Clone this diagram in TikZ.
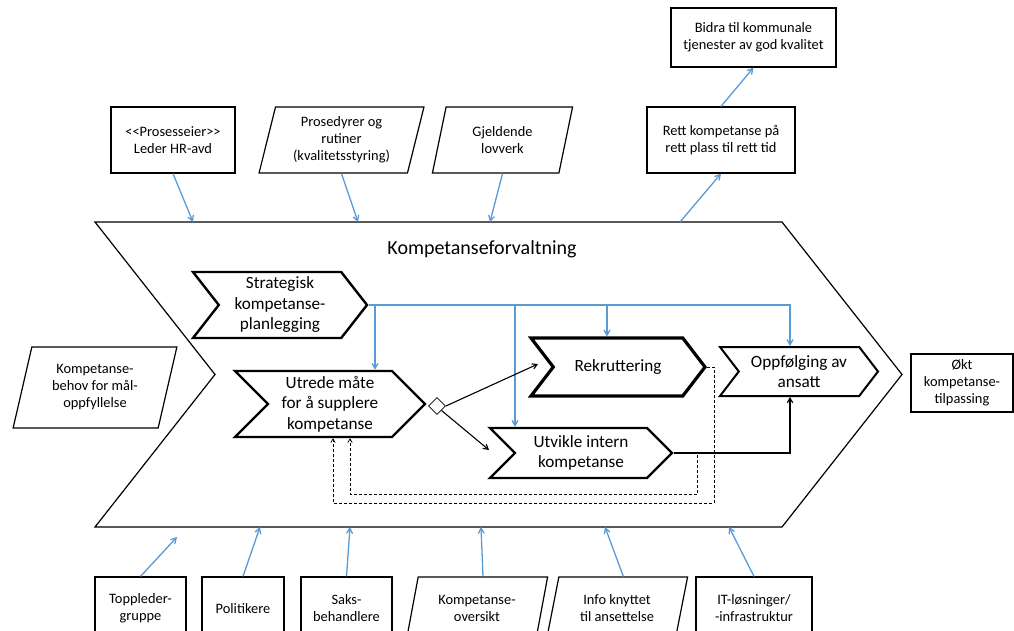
\documentclass[tikz,border=0pt]{standalone}
\usepackage{fontspec}
\setmainfont{Carlito}
\usetikzlibrary{arrows,positioning,shapes,calc}
\definecolor{flowblue}{RGB}{91,155,213}

\begin{document}
\begin{tikzpicture}[x=1pt,y=-1pt,>=angle 60,font=\fontsize{14.4}{17}\selectfont,align=center,
  box/.style={draw,line width=1.2pt,inner sep=2pt},
  para/.style={box,trapezium,trapezium left angle=75,trapezium right angle=105,trapezium stretches=true},
  chev/.style={draw,signal,signal from=west,signal to=east,signal pointer angle=104,line width=2.4pt,inner sep=1pt,font=\fontsize{17.2}{20.5}\selectfont},
  flow/.style={->,draw=flowblue,line width=1.3pt},
  ctrl/.style={->,line width=1.1pt},
  back/.style={->,dash pattern=on 3pt off 2pt,line width=0.7pt}]
   \useasboundingbox (0,0) rectangle (1014,631);
   \clip (0,0) rectangle (1014,631);
   % the process
   \node[chev,line width=1.2pt,signal pointer angle=103.6,minimum width=807,minimum height=305] (big) at (498.5,374.5) {};
   \node[font=\fontsize{20}{24}\selectfont] (title) at (482,249) {Kompetanseforvaltning};
   \node[chev,minimum width=174,minimum height=66] (strat) at (280,305) {Strategisk\\kompetanse-\\planlegging};
   \node[chev,signal pointer angle=90,minimum width=190,minimum height=66] (utr) at (330,404) {Utrede måte\\for å supplere\\kompetanse};
   \node[chev,line width=3.2pt,signal pointer angle=105,minimum width=174,minimum height=58] (rek) at (618,367) {Rekruttering};
   \node[chev,line width=2pt,signal pointer angle=105,minimum width=158,minimum height=49] (opf) at (799,371.5) {Oppfølging av\\ansatt};
   \node[chev,signal pointer angle=90,minimum width=182,minimum height=50] (utv) at (581,453) {Utvikle intern\\kompetanse};
   \node[draw,diamond,line width=0.8pt,minimum size=17,inner sep=0pt] (dia) at (437,406) {};
   % controls
   \node[box,minimum width=124,minimum height=66] (ldr) at (173,140) {<\kern0pt<Prosesseier>\kern0pt>\\Leder HR-avd};
   \node[para,trapezium left angle=76,trapezium right angle=104,minimum width=165,minimum height=66] (prs) at (341.5,140) {Prosedyrer og\\rutiner\\(kvalitetsstyring)};
   \node[para,trapezium left angle=76,trapezium right angle=104,minimum width=141,minimum height=66] (lov) at (502.5,140) {Gjeldende\\lovverk};
   % outputs
   \node[box,minimum width=148,minimum height=66] (rett) at (721,140) {Rett kompetanse på\\rett plass til rett tid};
   \node[box,minimum width=165,minimum height=59] (bidra) at (753.5,37.5) {Bidra til kommunale\\tjenester av god kvalitet};
   \node[para,minimum width=164,minimum height=81] (behov) at (95,387.5) {Kompetanse-\\behov for mål-\\oppfyllelse};
   \node[box,minimum width=102,minimum height=58] (okt) at (962,383) {Økt\\kompetanse-\\tilpassing};
   % resources
   \node[box,minimum width=91,minimum height=63] (topp) at (140.5,608.5) {Toppleder-\\gruppe};
   \node[box,minimum width=82,minimum height=63] (pol) at (243,608.5) {Politikere};
   \node[box,minimum width=91,minimum height=63] (saks) at (346.5,608.5) {Saks-\\behandlere};
   \node[para,minimum width=142,minimum height=63] (kov) at (477,608.5) {Kompetanse-\\oversikt};
   \node[para,minimum width=142,minimum height=63] (info) at (617,608.5) {Info knyttet\\til ansettelse};
   \node[box,minimum width=116,minimum height=63] (it) at (754,608.5) {IT-løsninger/\\-infrastruktur};
   % points on the big chevron
   \coordinate (in1) at (193,222);
   \coordinate (in2) at (358,222);
   \coordinate (in3) at (490,222);
   \coordinate (out1) at (680,222);
   \coordinate (res1) at (177,537);
   \coordinate (res2) at (260,527);
   \coordinate (res3) at (350,527);
   \coordinate (res4) at (481,527);
   \coordinate (res5) at (605,527);
   \coordinate (res6) at (729,527);
   \draw[flow] (ldr.south) -- (in1);
   \draw[flow] (prs.south) -- (in2);
   \draw[flow] (lov.south) -- (in3);
   \draw[flow] (out1) -- (rett.south);
   \draw[flow] (rett.north) -- (bidra.south);
   \draw[flow] (topp.north) -- (res1);
   \draw[flow] (pol.north) -- (res2);
   \draw[flow] (saks.north) -- (res3);
   \draw[flow] (kov.top side) -- (res4);
   \draw[flow] (info.top side) -- (res5);
   \draw[flow] (it.north) -- (res6);
   \foreach \t/\dx in {utr/45,utv/-66,rek/-11,opf/-9}
     \draw[flow] (strat.east) -| ($(\t.north)+(\dx,0)$);
   \draw[ctrl] (dia.east) -- ($(rek.center)+(-80,-3)$);
   \draw[ctrl] (dia.south east) -- ($(utv.center)+(-92,-3)$);
   \draw[ctrl] (utv.east) -| ($(opf.south)+(-9,0)$);
   \draw[back] ($(utv.east)+(6,0)$) -- ++(18,0) -- ++(0,41) -| ($(utr.south)+(20,0)$);
   \draw[back] (rek.east) -- ++(7,0) -- ++(0,136) -| ($(utr.south)+(3,0)$);
\end{tikzpicture}
\end{document}
